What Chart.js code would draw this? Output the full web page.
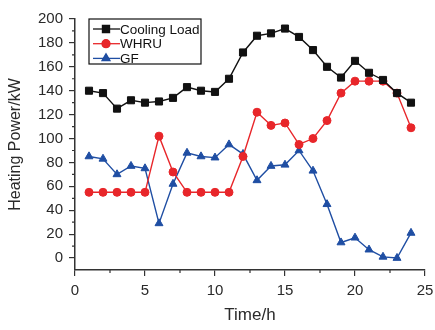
<!DOCTYPE html>
<html>
<head>
<meta charset="utf-8">
<script src="https://cdn.jsdelivr.net/npm/chart.js@4"></script>
<style>
  html, body { margin: 0; padding: 0; background: #fff; }
  #wrap { width: 435px; height: 330px; }
</style>
</head>
<body>
<div id="wrap"><canvas id="chart" width="435" height="330"></canvas></div>
<script>
// hours of the day
var hours = [1, 2, 3, 4, 5, 6, 7, 8, 9, 10, 11, 12, 13, 14, 15, 16, 17, 18, 19, 20, 21, 22, 23, 24];

// values (kW)
var cooling_load = [140, 138, 125, 132, 130, 131, 134, 143, 140, 139, 150, 172, 186, 188, 192, 185, 174, 160, 151, 165, 155, 149, 138, 130];
var whru = [55, 55, 55, 55, 55, 102, 72, 55, 55, 55, 55, 85, 122, 111, 113, 95, 100, 115, 138, 148, 148, 148, 138, 109];
var gf = [85, 83, 70, 77, 75, 29, 62, 88, 85, 84, 95, 87, 65, 77, 78, 90, 73, 45, 13, 17, 7, 1, 0, 21];

var series_names = ["Cooling Load", "WHRU", "GF"];
var x_ticks = [0, 5, 10, 15, 20, 25];
var x_minor = [2.5, 7.5, 12.5, 17.5, 22.5];
var y_ticks = [0, 20, 40, 60, 80, 100, 120, 140, 160, 180, 200];
var y_minor = [10, 30, 50, 70, 90, 110, 130, 150, 170, 190];

var font_name = "'Liberation Sans', Arial, sans-serif";
var axis_color = "#333";
var text_color = "#2a2a2a";

function to_points(values) {
  return hours.map(function (h, i) { return { x: h, y: values[i] }; });
}

// minor ticks on both axes (shorter than the major ones)
var minor_ticks = {
  id: "minor_ticks",
  afterDraw: function (chart) {
    var ctx = chart.ctx;
    var xs = chart.scales.x, ys = chart.scales.y;
    ctx.save();
    ctx.strokeStyle = axis_color;
    ctx.lineWidth = 1.2;
    ctx.beginPath();
    x_minor.forEach(function (v) {
      var px = xs.getPixelForValue(v);
      ctx.moveTo(px, chart.chartArea.bottom);
      ctx.lineTo(px, chart.chartArea.bottom + 3);
    });
    y_minor.forEach(function (v) {
      var py = ys.getPixelForValue(v);
      ctx.moveTo(chart.chartArea.left, py);
      ctx.lineTo(chart.chartArea.left - 3, py);
    });
    ctx.stroke();
    ctx.restore();
  }
};

// legend in a bordered box, line + marker for each series
var box_legend = {
  id: "box_legend",
  afterDraw: function (chart) {
    var ctx = chart.ctx;
    var left = 89, top = 19, w = 112, h = 45;
    ctx.save();
    ctx.fillStyle = "#fff";
    ctx.fillRect(left, top, w, h);
    ctx.strokeStyle = "#111";
    ctx.lineWidth = 1.2;
    ctx.strokeRect(left, top, w, h);
    chart.data.datasets.forEach(function (ds, i) {
      var y = top + 10 + i * 14.7;
      ctx.strokeStyle = ds.borderColor;
      ctx.lineWidth = 1.3;
      ctx.beginPath();
      ctx.moveTo(left + 4, y);
      ctx.lineTo(left + 31, y);
      ctx.stroke();
      Chart.helpers.drawPoint(ctx, {
        pointStyle: ds.pointStyle,
        radius: ds.pointRadius,
        borderWidth: 1
      }, left + 17, y);
      ctx.fillStyle = ds.pointBackgroundColor;
      ctx.strokeStyle = ds.borderColor;
      ctx.fill();
      ctx.fillStyle = "#111";
      ctx.font = "13.5px " + font_name;
      ctx.textBaseline = "middle";
      ctx.fillText(ds.label, left + 31, y + 1);
    });
    ctx.restore();
  }
};

var colors = ["#111111", "#e8262a", "#1f4ea3"];
var styles = ["rect", "circle", "triangle"];
var radii = [5, 4, 4.6];

var ctx = document.getElementById("chart");
var chart = new Chart(ctx, {
  type: "line",
  data: {
    datasets: [cooling_load, whru, gf].map(function (vals, i) {
      return {
        label: series_names[i],
        data: to_points(vals),
        borderColor: colors[i],
        backgroundColor: colors[i],
        pointBackgroundColor: colors[i],
        pointBorderColor: colors[i],
        pointStyle: styles[i],
        pointRadius: radii[i],
        pointBorderWidth: 1,
        borderWidth: 1.4,
        tension: 0
      };
    })
  },
  options: {
    responsive: false,
    animation: false,
    layout: { padding: { top: 19, right: 10, left: 0, bottom: 0 } },
    plugins: {
      legend: { display: false },
      tooltip: { enabled: false }
    },
    scales: {
      x: {
        type: "linear",
        min: 0,
        max: 25,
        afterBuildTicks: function (scale) {
          scale.ticks = x_ticks.map(function (v) { return { value: v }; });
        },
        afterFit: function (scale) {
          scale.height = 60;
          // keep the plot edges fixed, labels may overhang
          scale.paddingLeft = 0;
          scale.paddingRight = 0;
        },
        grid: { drawOnChartArea: false, drawTicks: true, tickLength: 6, tickColor: axis_color, lineWidth: 1.2 },
        border: { color: axis_color, width: 1.5 },
        ticks: { color: text_color, font: { family: font_name, size: 15 }, padding: 6, maxRotation: 0 },
        title: { display: true, text: "Time/h", color: text_color, font: { family: font_name, size: 17 }, padding: { top: 2 } }
      },
      y: {
        min: -10,
        max: 200,
        afterBuildTicks: function (scale) {
          scale.ticks = y_ticks.map(function (v) { return { value: v }; });
        },
        afterFit: function (scale) {
          scale.width = 75;
          scale.paddingTop = 0;
          scale.paddingBottom = 0;
        },
        grid: { drawOnChartArea: false, drawTicks: true, tickLength: 6, tickColor: axis_color, lineWidth: 1.2 },
        border: { color: axis_color, width: 1.5 },
        ticks: { color: text_color, font: { family: font_name, size: 15 }, padding: 6 },
        title: { display: true, text: "Heating Power/kW", color: text_color, font: { family: font_name, size: 16 }, padding: { top: 6, bottom: 2 } }
      }
    }
  },
  plugins: [minor_ticks, box_legend]
});
</script>
</body>
</html>
